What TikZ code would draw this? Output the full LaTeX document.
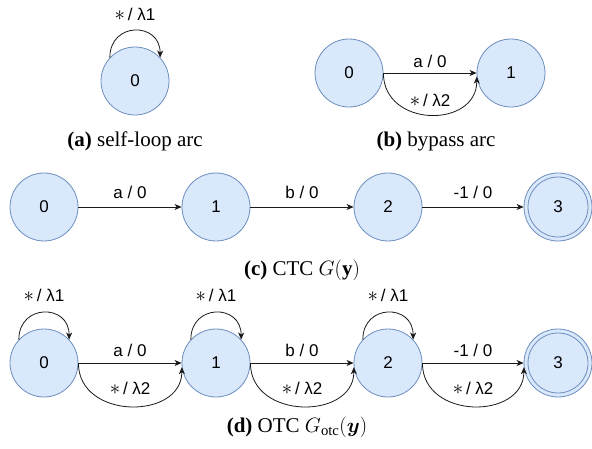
\documentclass[tikz,border=0pt]{standalone}
\usepackage{amsmath}
\usepackage{fontspec}
\setmainfont{Liberation Serif}
\newfontfamily\lblfont{Liberation Sans}
\usetikzlibrary{arrows.meta}
\definecolor{stfill}{HTML}{DAE8FC}
\definecolor{stdraw}{HTML}{6C8EBF}
\definecolor{edgec}{HTML}{1A1A1A}
\tikzset{
  x=1pt, y=1pt,
  state/.style={circle, draw=stdraw, fill=stfill, line width=0.8pt, minimum size=68pt, inner sep=0pt, font=\lblfont\fontsize{17}{19}\selectfont},
  lbl/.style={font=\lblfont\fontsize{17}{19}\selectfont, inner sep=0pt},
  arr/.style={draw=edgec, line width=0.8pt, -{Stealth[length=7pt,width=6pt,inset=2pt]}},
  captxt/.style={font=\fontsize{21}{24}\selectfont, inner sep=0pt, anchor=base}
}
\newcommand{\st}{{\fontsize{20}{20}\selectfont$\ast$}}
\begin{document}
\begin{tikzpicture}
\useasboundingbox (0,0) rectangle (592,-449);
% (a)
\node[state] (a0) at (135,-81) {0};
\draw[arr] (a0.137) .. controls +(0,36) and +(0,36) .. (a0.43);
\node[lbl] (la0) at ([yshift=32pt]a0.north) {\st\,/ λ1};
\node[captxt] (capa) at (135,-147) {\textbf{(a)} self-loop arc};
% (b)
\node[state] (b0) at (349,-73) {0};
\node[state] (b1) at (511,-73) {1};
\draw[arr] (b0.east) -- node[lbl, yshift=12pt] (lb01) {a / 0} (b1.west);
\draw[arr] (b0.east) .. controls +(0,-55) and +(0,-52) .. node[lbl, yshift=14pt] (lb01b) {\st\,/ λ2} (b1.186);
\node[captxt] (capb) at (436,-147) {\textbf{(b)} bypass arc};
% (c)
\node[state] (c0) at (44,-207) {0};
\node[state] (c1) at (216,-207) {1};
\node[state] (c2) at (388,-207) {2};
\node[state] (c3) at (558,-207) {3};
\draw[draw=stdraw, line width=0.8pt] (c3.center) circle (30pt);
\draw[arr] (c0) -- node[lbl, yshift=15pt] (lc01) {a / 0} (c1);
\draw[arr] (c1) -- node[lbl, yshift=15pt] (lc12) {b / 0} (c2);
\draw[arr] (c2) -- node[lbl, yshift=15pt] (lc23) {-1 / 0} (c3);
\node[captxt] (capc) at (302,-276) {\textbf{(c)} CTC $G(\mathbf{y})$};
% (d)
\node[state] (d0) at (44,-363) {0};
\node[state] (d1) at (216,-363) {1};
\node[state] (d2) at (388,-363) {2};
\node[state] (d3) at (558,-363) {3};
\draw[draw=stdraw, line width=0.8pt] (d3.center) circle (30pt);
\foreach \n in {0,1,2}{
  \draw[arr] (d\n.137) .. controls +(0,36) and +(0,36) .. (d\n.43);
  \node[lbl] (ld\n) at ([yshift=33pt]d\n.north) {\st\,/ λ1};
}
\draw[arr] (d0) -- node[lbl, yshift=13pt] (ld01) {a / 0} (d1);
\draw[arr] (d1) -- node[lbl, yshift=13pt] (ld12) {b / 0} (d2);
\draw[arr] (d2) -- node[lbl, yshift=13pt] (ld23) {-1 / 0} (d3);
\draw[arr] (d0.east) .. controls +(0,-57) and +(0,-53) .. node[lbl, yshift=18pt] (ld01b) {\st\,/ λ2} (d1.187);
\draw[arr] (d1.east) .. controls +(0,-57) and +(0,-53) .. node[lbl, yshift=18pt] (ld12b) {\st\,/ λ2} (d2.187);
\draw[arr] (d2.east) .. controls +(0,-57) and +(0,-53) .. node[lbl, yshift=18pt] (ld23b) {\st\,/ λ2} (d3.187);
\node[captxt] (capd) at (297,-432) {\textbf{(d)} OTC $G_{\mathrm{otc}}(\boldsymbol{y})$};
\end{tikzpicture}
\end{document}
